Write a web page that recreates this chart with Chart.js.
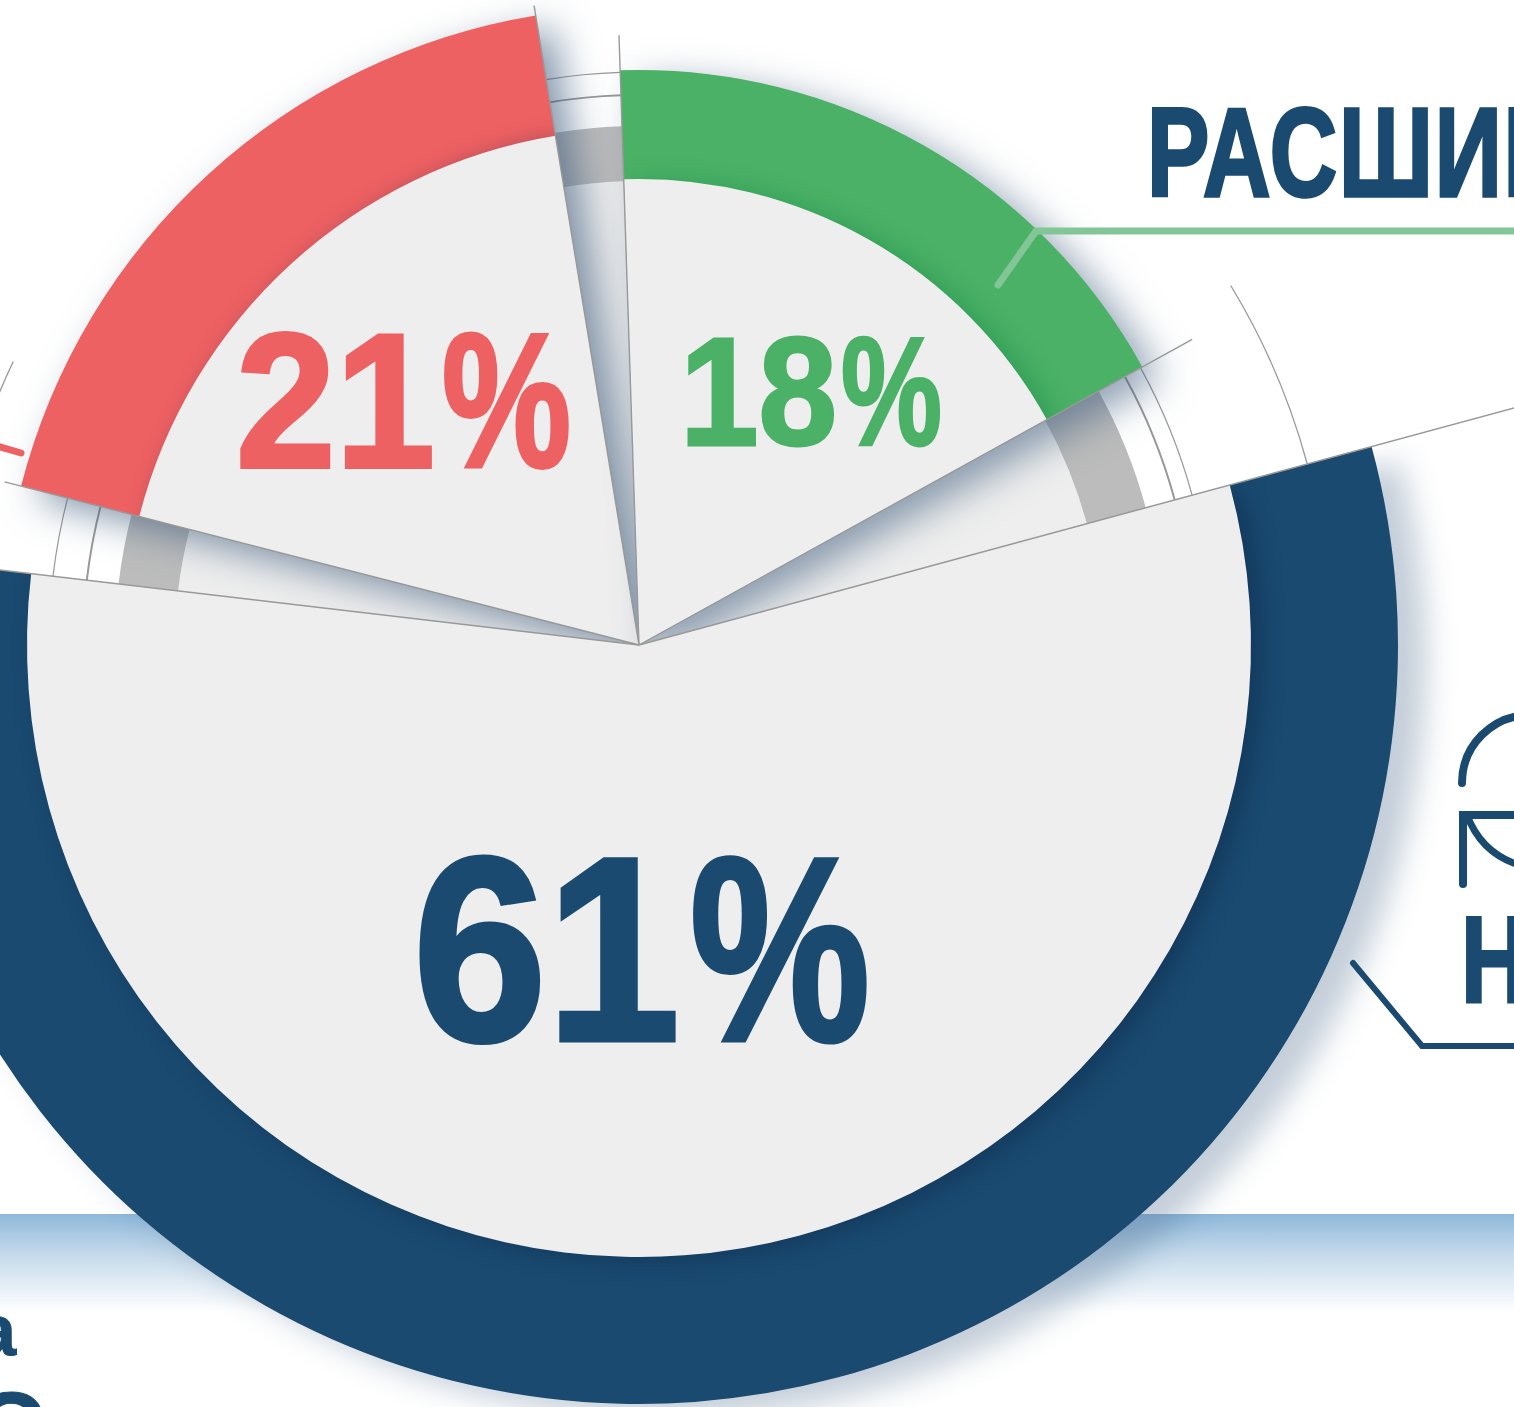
<!DOCTYPE html>
<html>
<head>
<meta charset="utf-8">
<title>Диаграмма</title>
<script src="https://cdn.jsdelivr.net/npm/chart.js@4/dist/chart.umd.min.js"></script>
<style>
  html, body { margin: 0; padding: 0; background: #fff; }
  #page { position: relative; width: 1514px; height: 1407px; overflow: hidden; background: #fff; }
  #band { position: absolute; left: 0; top: 1214px; width: 1514px; height: 98px;
          background: linear-gradient(#8fb8da, #c4d9ea 40%, #ffffff 100%); }
  #chart { position: absolute; left: 0; top: 0; }
  #overlay { position: absolute; left: 0; top: 0; }
  #overlay text { font-family: "Liberation Sans", Arial, sans-serif; font-weight: 700; stroke-linejoin: miter; }
  #overlay path { fill: none; stroke-linecap: round; stroke-linejoin: miter; }
</style>
</head>
<body>
<div id="page">
  <div id="band"></div>
  <canvas id="chart" width="1514" height="1407"></canvas>
  <svg id="overlay" width="1514" height="1407" xmlns="http://www.w3.org/2000/svg"></svg>
</div>
<script>
// values
const categories = ["Синий", "Красный", "Зелёный"];
const shareValues = [61, 21, 18];
// degrees of each slice going clockwise, the gaps between sectors included
const sliceNames = ["Синий", "зазор", "Красный", "зазор", "Зелёный", "зазор"];
const sliceSweeps = [201.85, 7.72, 66.26, 7.44, 62.96, 13.77];
const startAngle = 74.85;

// drawing setup
const center = { x: 639, y: 645 };
const colors = ["#1a4a70", "#ee6163", "#4ab166"];
const discColor = "#eeeeee";
const sliceOf = [0, 2, 4];
const gaps = [1, 3, 5];
const ringOuter = [759, 638, 575];
const ringInner = [612, 516, 466];
const spokeLength = [950, 660, 655, 648, 610, 632];
const lineColor = "#999999";

function perSlice(indexes, value) {
  return sliceSweeps.map((_, i) => {
    const k = indexes.indexOf(i);
    if (k < 0) return null;
    return Array.isArray(value) ? value[k] : value;
  });
}

function layer(name, indexes, color, inner, outer, extra) {
  return Object.assign({
    label: name,
    data: sliceSweeps,
    backgroundColor: perSlice(indexes, color).map((c) => c || "rgba(0,0,0,0)"),
    borderWidth: 0,
    innerR: perSlice(indexes, inner).map((r) => r || 0),
    outerR: perSlice(indexes, outer).map((r) => r || 0),
  }, extra);
}

const sectorShadow = [
  { color: "rgba(60,92,128,0.3)", blur: 30, dx: 28, dy: 14 },
  { color: "rgba(55,85,120,0.62)", blur: 38, dx: 18, dy: 13 },
  { color: "rgba(55,85,120,0.55)", blur: 38, dx: 18, dy: 13 },
];

// bottom layer first, the array is reversed below because Chart.js paints the last dataset first
const layers = [
  layer("gap fill", gaps, discColor, 0, 464),
  layer("gap band", gaps, "#bcbcbc", 464, [524, 519, 525]),
  layer("gap line inner", gaps, lineColor, [555, 549, 554], [557, 551, 556]),
  layer("gap line outer", gaps, lineColor, [589.4, 572.4, 572.4], [590.6, 573.6, 573.6]),
];
[1, 2, 0].forEach((s) => {
  const slice = sliceOf[s];
  layers.push(layer(categories[s] + " sector", [slice], colors[s], 0, ringOuter[s], {
    shadow: sectorShadow[s],
    clipSlice: s === 0 ? slice : undefined,
  }));
  layers.push(layer(categories[s] + " disc", [slice], discColor, 0, ringInner[s], {
    shadow: { color: s === 2 ? "rgba(0,120,60,0.35)" : "rgba(8,30,60,0.38)", blur: 24, dx: 10, dy: 3 },
    clipSlice: slice,
  }));
});
layers.reverse();

const ringPlugin = {
  id: "rings",
  afterDatasetsUpdate(chart) {
    chart.data.datasets.forEach((ds, i) => {
      chart.getDatasetMeta(i).data.forEach((arc, j) => {
        arc.x = center.x;
        arc.y = center.y;
        arc.innerRadius = ds.innerR[j];
        arc.outerRadius = ds.outerR[j];
      });
    });
  },
  beforeDatasetDraw(chart, args) {
    const ds = chart.data.datasets[args.index];
    const ctx = chart.ctx;
    ctx.save();
    if (ds.clipSlice !== undefined) {
      const arc = args.meta.data[ds.clipSlice];
      ctx.beginPath();
      ctx.moveTo(center.x, center.y);
      ctx.arc(center.x, center.y, 3000, arc.startAngle, arc.endAngle);
      ctx.closePath();
      ctx.clip();
    }
    if (ds.shadow) {
      ctx.shadowColor = ds.shadow.color;
      ctx.shadowBlur = ds.shadow.blur;
      ctx.shadowOffsetX = ds.shadow.dx;
      ctx.shadowOffsetY = ds.shadow.dy;
    }
  },
  afterDatasetDraw(chart) {
    chart.ctx.restore();
  },
  afterDatasetsDraw(chart) {
    // thin radial lines along the sector edges
    const arcs = chart.getDatasetMeta(0).data;
    const ctx = chart.ctx;
    const edges = [arcs[0].startAngle, arcs[0].endAngle, arcs[2].startAngle,
                   arcs[2].endAngle, arcs[4].startAngle, arcs[4].endAngle];
    ctx.save();
    ctx.strokeStyle = lineColor;
    ctx.lineWidth = 1.4;
    edges.forEach((a, i) => {
      ctx.beginPath();
      ctx.moveTo(center.x, center.y);
      ctx.lineTo(center.x + Math.cos(a) * spokeLength[i], center.y + Math.sin(a) * spokeLength[i]);
      ctx.stroke();
    });
    ctx.restore();
  },
};

new Chart(document.getElementById("chart"), {
  type: "doughnut",
  data: { labels: sliceNames, datasets: layers },
  options: {
    responsive: false,
    animation: false,
    events: [],
    rotation: startAngle,
    circumference: 360,
    plugins: { legend: { display: false }, tooltip: { enabled: false } },
  },
  plugins: [ringPlugin],
});

// text and callouts on top
const svg = document.getElementById("overlay");
const NS = "http://www.w3.org/2000/svg";

function addText(str, x, y, size, scaleX, fill, bold, spacing) {
  const t = document.createElementNS(NS, "text");
  t.setAttribute("transform", `translate(${x},${y}) scale(${scaleX},1)`);
  t.setAttribute("font-size", size);
  t.setAttribute("fill", fill);
  t.setAttribute("stroke", fill);
  t.setAttribute("stroke-width", bold);
  if (spacing) t.setAttribute("letter-spacing", spacing);
  t.textContent = str;
  svg.appendChild(t);
}

// digits and the percent sign are fitted to their own widths
function addShare(value, y, size, fill, bold, x, len, pctX, pctLen) {
  const t = document.createElementNS(NS, "text");
  t.setAttribute("y", y);
  t.setAttribute("font-size", size);
  t.setAttribute("fill", fill);
  t.setAttribute("stroke", fill);
  t.setAttribute("stroke-width", bold);
  [[String(value), x, len], ["%", pctX, pctLen]].forEach(([str, px, l]) => {
    const s = document.createElementNS(NS, "tspan");
    s.setAttribute("x", px);
    s.setAttribute("textLength", l);
    s.setAttribute("lengthAdjust", "spacingAndGlyphs");
    s.textContent = str;
    t.appendChild(s);
  });
  svg.appendChild(t);
}

function addPath(d, stroke, width) {
  const p = document.createElementNS(NS, "path");
  p.setAttribute("d", d);
  p.setAttribute("stroke", stroke);
  p.setAttribute("stroke-width", width);
  svg.appendChild(p);
}

addShare(shareValues[0], 1040, 262, colors[0], 5, 413, 267, 690, 180);
addShare(shareValues[1], 467, 192, colors[1], 4, 236, 199, 442, 129);
addShare(shareValues[2], 445, 154, colors[2], 3, 680, 157, 841, 101);
addText("РАСШИР", 1147, 196, 127, 0.735, colors[0], 3.5, 2.5);
addText("Н", 1461, 1002, 122, 0.76, colors[0], 3);
addText("а", -24, 1355, 72, 1, colors[0], 1);
addText("С", -27, 1462, 100, 1, colors[0], 1);

addPath("M998 285 L1036 231 H1530", "#82c596", 7);
addPath("M-10 444 L21 453", colors[1], 7);
addPath("M1353 963 L1422 1046 H1530", colors[0], 6);
addPath("M1462 783 A68 68 0 0 1 1530 715", colors[0], 8);
addPath("M1463 884 V815 H1530", colors[0], 8);
addPath("M1467 815 Q1483 858 1530 868", colors[0], 7);
addPath("M1231 286 A692 692 0 0 1 1307 463", lineColor, 1.3);
addPath("M13 362 A687 687 0 0 0 -2 396", lineColor, 1.3);
</script>
</body>
</html>
